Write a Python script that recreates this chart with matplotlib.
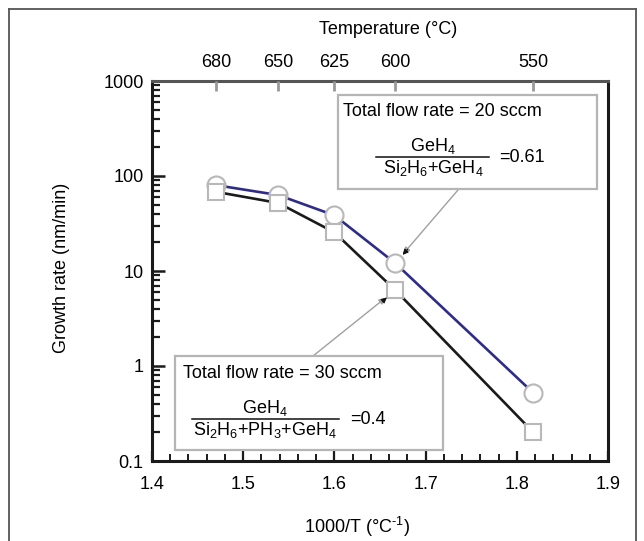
import numpy as np
import matplotlib
matplotlib.use('Agg')
from matplotlib import pyplot as plt
from matplotlib.patches import Rectangle
from matplotlib.lines import Line2D
from matplotlib.ticker import FixedLocator, MultipleLocator, LogLocator, FuncFormatter, NullFormatter

plt.rcParams['font.family'] = ['Liberation Sans', 'DejaVu Sans']
plt.rcParams['mathtext.fontset'] = 'custom'
plt.rcParams['mathtext.rm'] = 'Liberation Sans'
plt.rcParams['mathtext.it'] = 'Liberation Sans'
plt.rcParams['mathtext.default'] = 'regular'

# growth temperatures (degC) and growth rates (nm/min)
temps = [680, 650, 625, 600, 550]
rate_20sccm = [80, 63, 38.5, 12.1, 0.52]
rate_30sccm = [68, 52, 25.5, 6.3, 0.2]

x_ticks = [1.4, 1.5, 1.6, 1.7, 1.8, 1.9]
y_ticks = [0.1, 1, 10, 100, 1000]
y_tick_labels = ['0.1', '1', '10', '100', '1000']

W, H = 644, 541
FS = 13


def px(x, y):
	# figure pixel (from top-left) -> figure fraction
	return (x / W, 1 - y / H)


fig = plt.figure(figsize=(W / 100, H / 100), dpi=100)
ax = fig.add_axes([152 / W, 1 - 461 / H, (608 - 152) / W, (461 - 81) / H])

inv_t = [1000.0 / t for t in temps]

ax.plot(inv_t, rate_20sccm, '-', color='#2e2c86', lw=1.9, zorder=3)
ax.plot(inv_t, rate_30sccm, '-', color='#1a1a1a', lw=1.9, zorder=3)
ax.plot(inv_t, rate_20sccm, 'o', ms=13, mfc='white', mec='#b8b8b8', mew=1.5, zorder=4, ls='none')
ax.plot(inv_t, rate_30sccm, 's', ms=12, mfc='white', mec='#b8b8b8', mew=1.5, zorder=4, ls='none')

ax.set_yscale('log')
ax.set_xlim(1.4, 1.9)
ax.set_ylim(0.1, 1000)

ax.xaxis.set_major_locator(FixedLocator(x_ticks))
ax.xaxis.set_minor_locator(MultipleLocator(0.02))
ax.xaxis.set_major_formatter(FuncFormatter(lambda v, p: '%.1f' % v))
ax.yaxis.set_major_locator(FixedLocator(y_ticks))
ax.yaxis.set_major_formatter(FuncFormatter(lambda v, p: y_tick_labels[y_ticks.index(min(y_ticks, key=lambda t: abs(np.log10(t) - np.log10(v))))]))
ax.yaxis.set_minor_locator(LogLocator(base=10, subs=np.arange(2, 10)))
ax.yaxis.set_minor_formatter(NullFormatter())

ax.tick_params(axis='both', which='both', direction='in', top=False, right=False,
			   labelsize=FS, color='#1a1a1a')
ax.tick_params(axis='x', which='major', length=7, width=1.6, pad=11)
ax.tick_params(axis='x', which='minor', length=5, width=1.4)
ax.tick_params(axis='y', which='major', length=9, width=1.8, pad=6)
ax.tick_params(axis='y', which='minor', length=6, width=1.6)

for s in ax.spines.values():
	s.set_linewidth(2.2)
	s.set_color('#1a1a1a')
ax.spines['top'].set_color('#555555')

# temperature scale on top
top = ax.twiny()
top.set_xlim(ax.get_xlim())
top.set_xticks(inv_t)
top.set_xticklabels([str(t) for t in temps])
top.tick_params(axis='x', direction='in', length=7, width=2.0, color='#999999',
				labelsize=FS, pad=7)
top.xaxis.set_minor_locator(FixedLocator([]))
for s in top.spines.values():
	s.set_visible(False)

fig.text(*px(388, 30), 'Temperature (\u00b0C)', fontsize=FS, ha='center', va='center')
fig.text(*px(357, 527), '1000/T (\u00b0C$^{\\text{-}1}$)', fontsize=FS, ha='center', va='center')
fig.text(*px(62, 268), 'Growth rate (nm/min)', fontsize=FS, ha='center', va='center', rotation=90)

# annotation boxes
box_col = '#b5b5b5'
for (x0, y0, x1, y1) in [(338, 95, 597, 189), (175, 356, 443, 450)]:
	fig.patches.append(Rectangle(px(x0, y1), (x1 - x0) / W, (y1 - y0) / H, transform=fig.transFigure,
								 facecolor='white', edgecolor=box_col, lw=1.6, zorder=5))

fig.text(*px(343, 112), 'Total flow rate = 20 sccm', fontsize=FS, ha='left', va='center', zorder=6)
fig.text(*px(433, 146), 'GeH$_4$', fontsize=FS, ha='center', va='center', zorder=6)
fig.add_artist(Line2D([376 / W, 489 / W], [1 - 156.5 / H] * 2, color='#111111', lw=1.1, zorder=6))
fig.text(*px(433, 168), 'Si$_2$H$_6$+GeH$_4$', fontsize=FS, ha='center', va='center', zorder=6)
fig.text(*px(499, 157), '=0.61', fontsize=FS, ha='left', va='center', zorder=6)

fig.text(*px(183, 373), 'Total flow rate = 30 sccm', fontsize=FS, ha='left', va='center', zorder=6)
fig.text(*px(265, 408), 'GeH$_4$', fontsize=FS, ha='center', va='center', zorder=6)
fig.add_artist(Line2D([192 / W, 339 / W], [1 - 418.5 / H] * 2, color='#111111', lw=1.1, zorder=6))
fig.text(*px(265, 430), 'Si$_2$H$_6$+PH$_3$+GeH$_4$', fontsize=FS, ha='center', va='center', zorder=6)
fig.text(*px(350, 419), '=0.4', fontsize=FS, ha='left', va='center', zorder=6)

# leader lines from the boxes to the 600 degC points
for rate, start in [(rate_20sccm, (458, 190)), (rate_30sccm, (313, 356))]:
	ax.annotate('', xy=(1000.0 / 600, rate[3]), xytext=px(*start), textcoords='figure fraction',
				arrowprops=dict(arrowstyle='-|>', color='#a0a0a0', lw=1.0, mutation_scale=9,
								shrinkA=0, shrinkB=9), zorder=2)
for rate, off in [(rate_20sccm, (9, 10)), (rate_30sccm, (-9, -8))]:
	ax.annotate('', xy=(1000.0 / 600, rate[3]), xytext=off, textcoords='offset points',
				arrowprops=dict(arrowstyle='-|>', color='#111111', lw=0.8, mutation_scale=8,
								shrinkA=0, shrinkB=8), zorder=5)

# outer frame
frame_col = '#555555'
fig.add_artist(Line2D([9 / W, 9 / W], [0, 1 - 9 / H], color=frame_col, lw=1.3))
fig.add_artist(Line2D([9 / W, 636 / W], [1 - 9 / H, 1 - 9 / H], color=frame_col, lw=1.3))
fig.add_artist(Line2D([636 / W, 636 / W], [0, 1 - 9 / H], color=frame_col, lw=1.3))

fig.savefig('out.png', dpi=100)
